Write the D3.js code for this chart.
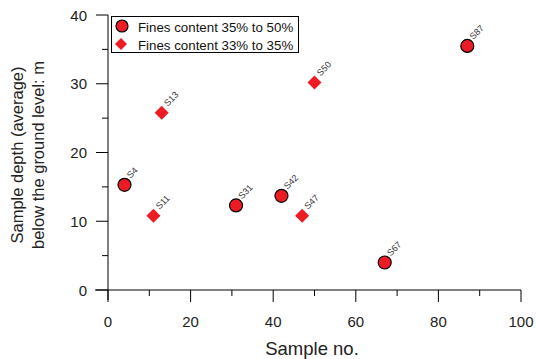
<!DOCTYPE html>
<html>
<head>
<meta charset="utf-8">
<script src="https://cdn.jsdelivr.net/npm/d3@7"></script>
<style>
body { margin: 0; background: #fff; }
text { font-family: Arial, "Liberation Sans", sans-serif; }
</style>
</head>
<body>
<script>
// series data
var circleNames = ["S4", "S31", "S42", "S67", "S87"];
var circleX = [4, 31, 42, 67, 87];
var circleY = [15.3, 12.3, 13.7, 4, 35.5];

var diamondNames = ["S11", "S13", "S47", "S50"];
var diamondX = [11, 13, 47, 50];
var diamondY = [10.8, 25.8, 10.8, 30.2];

var seriesLabels = ["Fines content 35% to 50%", "Fines content 33% to 35%"];
var xTicks = [0, 20, 40, 60, 80, 100];
var yTicks = [0, 10, 20, 30, 40];

var w = 536, h = 359;
var red = "#ED1C24";

var svg = d3.select("body").append("svg")
    .attr("width", w)
    .attr("height", h);

var x = d3.scaleLinear().domain([0, 100]).range([108, 521]);
var y = d3.scaleLinear().domain([0, 40]).range([290, 15]);

// x axis: major and minor ticks pointing down
var xAxis = svg.append("g").attr("transform", "translate(0," + y(0) + ")");
xAxis.append("line")
    .attr("x1", 95).attr("x2", x(100))
    .attr("stroke", "#000").attr("stroke-width", 1);
xAxis.selectAll(".minor")
    .data(d3.range(10, 100, 20))
    .enter().append("line")
    .attr("x1", function(d){ return x(d); })
    .attr("x2", function(d){ return x(d); })
    .attr("y1", 0).attr("y2", 6)
    .attr("stroke", "#000");
xAxis.selectAll(".major")
    .data(xTicks)
    .enter().append("line")
    .attr("x1", function(d){ return x(d); })
    .attr("x2", function(d){ return x(d); })
    .attr("y1", 0).attr("y2", 12)
    .attr("stroke", "#000");
xAxis.selectAll(".lbl")
    .data(xTicks)
    .enter().append("text")
    .attr("x", function(d){ return x(d); })
    .attr("y", 37)
    .attr("text-anchor", "middle")
    .attr("font-size", 15)
    .attr("fill", "#222")
    .text(function(d){ return d; });

// y axis: major and minor ticks pointing left
var yAxis = svg.append("g").attr("transform", "translate(" + x(0) + ",0)");
yAxis.append("line")
    .attr("y1", y(40)).attr("y2", 300)
    .attr("stroke", "#000").attr("stroke-width", 1);
yAxis.selectAll(".minor")
    .data(d3.range(5, 40, 10))
    .enter().append("line")
    .attr("y1", function(d){ return y(d); })
    .attr("y2", function(d){ return y(d); })
    .attr("x1", 0).attr("x2", -6)
    .attr("stroke", "#000");
yAxis.selectAll(".major")
    .data(yTicks)
    .enter().append("line")
    .attr("y1", function(d){ return y(d); })
    .attr("y2", function(d){ return y(d); })
    .attr("x1", 0).attr("x2", -12)
    .attr("stroke", "#000");
yAxis.selectAll(".lbl")
    .data(yTicks)
    .enter().append("text")
    .attr("x", -21)
    .attr("y", function(d){ return y(d) + 5.5; })
    .attr("text-anchor", "end")
    .attr("font-size", 15)
    .attr("fill", "#222")
    .text(function(d){ return d; });

// axis titles
svg.append("text")
    .attr("x", 312).attr("y", 355)
    .attr("text-anchor", "middle")
    .attr("font-size", 18.5)
    .attr("fill", "#222")
    .text("Sample no.");

var yTitle = svg.append("text")
    .attr("transform", "translate(23,155) rotate(-90)")
    .attr("text-anchor", "middle")
    .attr("font-size", 16.5)
    .attr("fill", "#222");
yTitle.append("tspan").attr("x", 0).attr("dy", 0).text("Sample depth (average)");
yTitle.append("tspan").attr("x", 0).attr("dy", 21).text("below the ground level: m");

// point records
var diamonds = diamondNames.map(function(n, i){ return {name: n, x: diamondX[i], y: diamondY[i]}; });
var circles = circleNames.map(function(n, i){ return {name: n, x: circleX[i], y: circleY[i]}; });

var diamondPath = "M0,-7L7,0L0,7L-7,0Z";

svg.selectAll(".diamonds")
    .data(diamonds)
    .enter().append("path")
    .attr("class", "diamonds")
    .attr("d", diamondPath)
    .attr("transform", function(d){ return "translate(" + x(d.x) + "," + y(d.y) + ")"; })
    .attr("fill", red);

svg.selectAll(".circles")
    .data(circles)
    .enter().append("circle")
    .attr("class", "circles")
    .attr("cx", function(d){ return x(d.x); })
    .attr("cy", function(d){ return y(d.y); })
    .attr("r", 6.5)
    .attr("fill", red)
    .attr("stroke", "#000")
    .attr("stroke-width", 1.2);

// rotated point labels
svg.selectAll(".ptlabel")
    .data(diamonds.concat(circles))
    .enter().append("text")
    .attr("class", "ptlabel")
    .attr("transform", function(d){
        return "translate(" + (x(d.x) + 6) + "," + (y(d.y) - 6) + ") rotate(-45)";
    })
    .attr("font-size", 9)
    .attr("fill", "#333")
    .text(function(d){ return d.name; });

// legend
var legend = svg.append("g");
legend.append("rect")
    .attr("x", 111.5).attr("y", 16.5)
    .attr("width", 187).attr("height", 36)
    .attr("fill", "#fff")
    .attr("stroke", "#000");
legend.append("circle")
    .attr("cx", 122).attr("cy", 26).attr("r", 6)
    .attr("fill", red).attr("stroke", "#000").attr("stroke-width", 1.2);
legend.append("path")
    .attr("d", "M0,-6L6,0L0,6L-6,0Z")
    .attr("transform", "translate(121,44)")
    .attr("fill", red);
legend.selectAll(".legtext")
    .data(seriesLabels)
    .enter().append("text")
    .attr("x", 138)
    .attr("y", function(d, i){ return 31.5 + i * 18; })
    .attr("font-size", 13.3)
    .attr("fill", "#111")
    .text(function(d){ return d; });
</script>
</body>
</html>
